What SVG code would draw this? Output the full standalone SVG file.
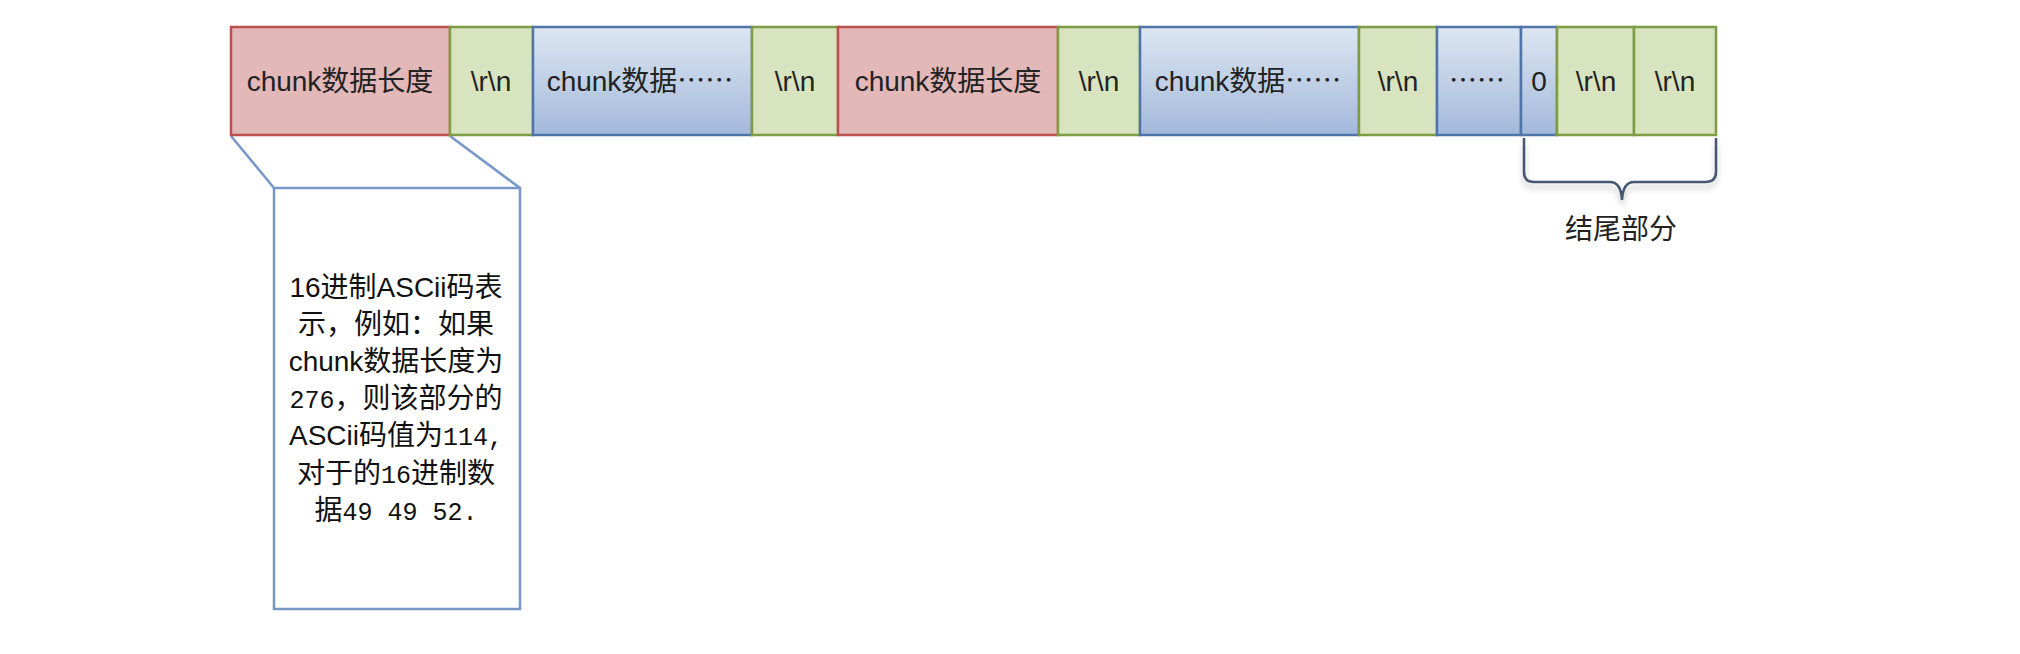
<svg xmlns="http://www.w3.org/2000/svg" width="2020" height="654" viewBox="0 0 2020 654">
<defs>
<linearGradient id="blueGrad" x1="0" y1="0" x2="0" y2="1">
<stop offset="0" stop-color="#dde6f2"/>
<stop offset="1" stop-color="#a3b9da"/>
</linearGradient>
<filter id="shadow" x="-10%" y="-30%" width="120%" height="160%">
<feGaussianBlur in="SourceAlpha" stdDeviation="3"/>
<feOffset dx="0" dy="5" result="b"/>
<feComponentTransfer><feFuncA type="linear" slope="0.25"/></feComponentTransfer>
<feMerge><feMergeNode/><feMergeNode in="SourceGraphic"/></feMerge>
</filter>
</defs>
<style>
.red{fill:#e2b8b8;stroke:#b9504d;stroke-width:2.5}
.green{fill:#d8e3bf;stroke:#7f9c44;stroke-width:2.5}
.blue{fill:url(#blueGrad);stroke:#4f74a8;stroke-width:2.5}
.lbl{font-family:"Liberation Sans","Noto Sans CJK SC",sans-serif;font-size:28px;fill:#222;text-anchor:middle}
.note{font-family:"Liberation Sans","Noto Sans CJK SC",sans-serif;font-size:28px;fill:#111;text-anchor:middle}
.mono{font-family:"Liberation Mono","Noto Sans CJK SC",monospace;font-size:25px}
.cjk{font-family:"Noto Sans CJK SC",sans-serif}
.callout{fill:#ffffff;stroke:#7896c8;stroke-width:2.5}
.conn{fill:none;stroke:#7896c8;stroke-width:2.5}
.brace{fill:none;stroke:#44566f;stroke-width:2.5}
</style>
<rect width="2020" height="654" fill="#ffffff"/>

<g id="connectors">
<line class="conn" x1="231" y1="136" x2="274" y2="188"/>
<line class="conn" x1="450" y1="136" x2="520" y2="188"/>
<path class="brace" filter="url(#shadow)" d="M1524,138 L1524,172 Q1524,182 1534,182 L1610,182 Q1621,182 1622,200 Q1623,182 1634,182 L1705,182 Q1716,182 1716,172 L1716,138"/>
</g>

<g id="n1"><rect class="red" x="231" y="27" width="219" height="108"/><text class="lbl" x="340" y="91">chunk数据长度</text></g>
<g id="n2"><rect class="green" x="450" y="27" width="83" height="108"/><text class="lbl" x="491" y="91">\r\n</text></g>
<g id="n3"><rect class="blue" x="533" y="27" width="219" height="108"/><text class="lbl" x="640" y="91">chunk数据<tspan class="cjk">……</tspan></text></g>
<g id="n4"><rect class="green" x="752" y="27" width="86" height="108"/><text class="lbl" x="795" y="91">\r\n</text></g>
<g id="n5"><rect class="red" x="838" y="27" width="220" height="108"/><text class="lbl" x="948" y="91">chunk数据长度</text></g>
<g id="n6"><rect class="green" x="1058" y="27" width="82" height="108"/><text class="lbl" x="1099" y="91">\r\n</text></g>
<g id="n7"><rect class="blue" x="1140" y="27" width="219" height="108"/><text class="lbl" x="1248" y="91">chunk数据<tspan class="cjk">……</tspan></text></g>
<g id="n8"><rect class="green" x="1359" y="27" width="78" height="108"/><text class="lbl" x="1398" y="91">\r\n</text></g>
<g id="n9"><rect class="blue" x="1437" y="27" width="84" height="108"/><text class="lbl cjk" x="1477" y="91">……</text></g>
<g id="n10"><rect class="blue" x="1521" y="27" width="36" height="108"/><text class="lbl" x="1539" y="91">0</text></g>
<g id="n11"><rect class="green" x="1557" y="27" width="77" height="108"/><text class="lbl" x="1596" y="91">\r\n</text></g>
<g id="n12"><rect class="green" x="1634" y="27" width="82" height="108"/><text class="lbl" x="1675" y="91">\r\n</text></g>

<g id="brace-label"><text class="lbl" x="1621" y="239">结尾部分</text></g>

<g id="note">
<rect class="callout" x="274" y="188" width="246" height="421"/>
<text class="note" x="396" y="297">16进制ASCii码表</text>
<text class="note" x="396" y="334">示，例如：如果</text>
<text class="note" x="396" y="371">chunk数据长度为</text>
<text class="note" x="396" y="408"><tspan class="mono">276</tspan>，则该部分的</text>
<text class="note" x="396" y="445">ASCii码值为<tspan class="mono">114,</tspan></text>
<text class="note" x="396" y="483">对于的<tspan class="mono">16</tspan>进制数</text>
<text class="note" x="396" y="520">据<tspan class="mono">49 49 52.</tspan></text>
</g>
</svg>
